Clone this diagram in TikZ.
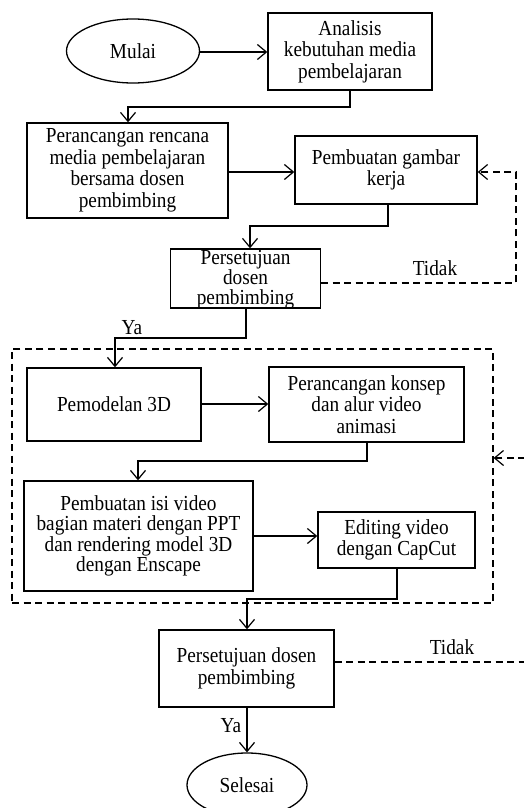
\documentclass[tikz,border=0pt]{standalone}
\usepackage{fontspec}
\setmainfont{Liberation Serif}[FakeStretch=0.9]
\usetikzlibrary{shapes.geometric,arrows.meta}
\begin{document}
\begin{tikzpicture}[x=1pt,y=-1pt,
  every node/.style={font=\fontsize{21.4}{21.5}\selectfont, align=center, inner sep=0pt},
  pbox/.style={draw, line width=1.4pt, rectangle},
  term/.style={draw, line width=1.3pt, ellipse},
  arr/.style={line width=1.2pt, -{Straight Barb[length=9pt,width=15pt,line width=1.2pt]}},
  dsh/.style={line width=1.2pt, dash pattern=on 7pt off 4.5pt},
  darr/.style={dsh, -{Straight Barb[length=9pt,width=15pt,line width=1.2pt]}}]
\useasboundingbox (0,0) rectangle (523,808);
% nodes
\node[term, minimum width=133pt, minimum height=64pt] (mulai) at (133,51) {Mulai};
\node[pbox, minimum width=164pt, minimum height=77pt] (ana) at (350,51.5) {Analisis\\kebutuhan media\\pembelajaran};
\node[pbox, minimum width=201pt, minimum height=95pt] (per) at (127.5,170.5) {Perancangan rencana\\media pembelajaran\\bersama dosen\\pembimbing};
\node[pbox, minimum width=182pt, minimum height=68pt] (gam) at (386,170) {Pembuatan gambar\\kerja};
\node[pbox, minimum width=150pt, minimum height=59pt] (set1) at (245.5,278.5) {};
\node[font=\fontsize{21.4}{20.2}\selectfont] (set1t) at (245.5,280) {Persetujuan\\dosen\\pembimbing};
\node[draw, dsh, rectangle, minimum width=481pt, minimum height=254pt] (grp) at (252.5,476) {};
\node[pbox, minimum width=174pt, minimum height=73pt] (mod) at (114,404.5) {Pemodelan 3D};
\node[pbox, minimum width=195pt, minimum height=75pt] (kon) at (366.5,404.5) {Perancangan konsep\\dan alur video\\animasi};
\node[pbox, minimum width=229pt, minimum height=110pt, font=\fontsize{21.4}{20.5}\selectfont] (isi) at (138.5,536) {Pembuatan isi video\\bagian materi dengan PPT\\dan rendering model 3D\\dengan Enscape};
\node[pbox, minimum width=157pt, minimum height=56pt] (edit) at (396.5,540) {Editing video\\dengan CapCut};
\node[pbox, minimum width=175pt, minimum height=77pt] (set2) at (246.5,668.5) {Persetujuan dosen\\pembimbing};
\node[term, minimum width=120pt, minimum height=64pt] (sel) at (247,785) {Selesai};
% labels
\node (t1) at (435,268) {Tidak};
\node (y1) at (132,328) {Ya};
\node (t2) at (452,647) {Tidak};
\node (y2) at (231,726) {Ya};
% bend coordinates
\coordinate (c1) at (350,107);
\coordinate (c2) at (128,107);
\coordinate (c3) at (388,226);
\coordinate (c4) at (250,226);
\coordinate (c5) at (516,283);
\coordinate (c6) at (516,172);
\coordinate (c7) at (246,338);
\coordinate (c8) at (115,338);
\coordinate (c9) at (367,461);
\coordinate (c10) at (138,461);
\coordinate (c11) at (397,599);
\coordinate (c12) at (247,599);
\coordinate (c13) at (535,662);
\coordinate (c14) at (535,458);
% connectors
\draw[arr] (mulai.east |- 0,52) -- (ana.west |- 0,52);
\draw[arr] (ana.south -| c1) -- (c1) -- (c2) -- (c2 |- per.north);
\draw[arr] (per.east |- 0,172) -- (gam.west |- 0,172);
\draw[arr] (gam.south -| c3) -- (c3) -- (c4) -- (c4 |- set1.north);
\draw[darr] (set1.east |- c5) -- (c5) -- (c6) -- (gam.east |- c6);
\draw[arr] (set1.south -| c7) -- (c7) -- (c8) -- (c8 |- mod.north);
\draw[arr] (mod.east |- 0,404) -- (kon.west |- 0,404);
\draw[arr] (kon.south -| c9) -- (c9) -- (c10) -- (c10 |- isi.north);
\draw[arr] (isi.east |- 0,536) -- (edit.west |- 0,536);
\draw[arr] (edit.south -| c11) -- (c11) -- (c12) -- (c12 |- set2.north);
\draw[darr] (set2.east |- c13) -- (c13) -- (c14) -- (grp.east |- c14);
\draw[arr] (set2.south -| sel.north) -- (sel.north);
\end{tikzpicture}
\end{document}
